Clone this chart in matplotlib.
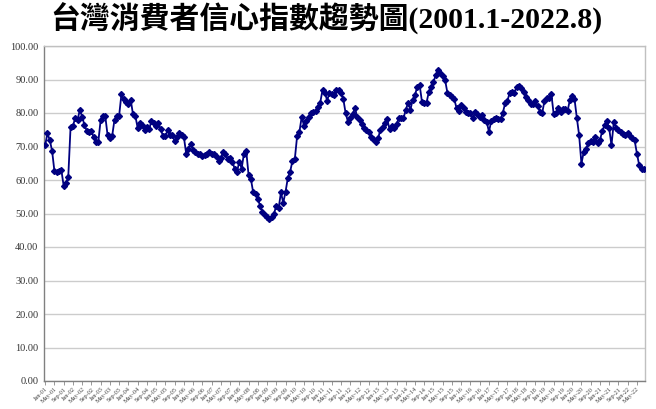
import matplotlib
matplotlib.use("Agg")
import matplotlib.pyplot as plt
import pandas as pd
import numpy as np

# Monthly consumer confidence index, 2001.1 - 2022.8
cci_2001_2005 = [70.4, 73.9, 71.9, 68.7, 62.7, 62.5, 62.7, 63.0, 58.3, 59.0, 61.0, 75.9,
                 76.2, 78.4, 77.9, 80.9, 78.9, 76.4, 74.7, 74.2, 74.6, 72.7, 71.4, 71.4,
                 77.9, 79.2, 79.1, 73.4, 72.4, 73.2, 78.0, 79.1, 79.2, 85.6, 84.2, 83.4,
                 82.8, 84.0, 79.6, 79.2, 75.6, 77.0, 76.5, 74.8, 75.7, 75.2, 77.6, 77.1,
                 76.2, 77.0, 75.1, 73.1, 73.1, 74.9, 73.4, 73.4, 71.6, 72.7, 74.1, 73.4]
cci_2006_2010 = [72.9, 67.9, 69.4, 70.7, 68.9, 68.4, 67.9, 67.7, 67.3, 67.5, 67.9, 68.4,
                 67.7, 67.9, 67.3, 65.7, 66.7, 68.4, 67.7, 66.3, 66.7, 65.5, 63.3, 62.5,
                 65.5, 63.4, 67.9, 68.6, 61.5, 60.3, 56.3, 55.7, 54.3, 52.3, 50.5, 49.5,
                 49.0, 48.5, 49.0, 50.0, 52.3, 51.5, 56.3, 53.2, 56.5, 60.7, 62.5, 65.8,
                 66.2, 73.1, 74.4, 78.9, 76.1, 77.7, 78.9, 80.1, 80.4, 80.7, 81.9, 83.1]
cci_2011_2015 = [86.9, 86.1, 83.7, 86.1, 85.6, 85.4, 86.9, 86.9, 85.9, 84.1, 79.9, 77.4,
                 78.4, 79.7, 81.4, 78.9, 77.9, 76.7, 75.4, 74.9, 74.4, 72.7, 72.1, 71.4,
                 72.4, 74.9, 75.7, 76.9, 78.1, 75.1, 76.1, 75.4, 76.7, 78.4, 78.4, 78.4,
                 80.9, 83.1, 80.9, 84.0, 85.4, 87.9, 88.4, 83.4, 83.1, 83.1, 86.4, 87.9,
                 89.4, 91.3, 92.8, 91.8, 90.9, 89.9, 86.1, 85.4, 84.9, 84.1, 81.4, 80.7]
cci_2016_2020 = [82.4, 81.4, 80.4, 79.9, 80.1, 78.4, 80.4, 79.7, 78.9, 79.4, 77.9, 77.4,
                 74.4, 77.7, 78.3, 78.4, 78.1, 78.1, 80.1, 82.9, 83.7, 86.1, 86.4, 86.1,
                 87.9, 88.1, 87.4, 86.4, 84.9, 83.9, 82.6, 82.6, 83.6, 82.2, 80.4, 79.9,
                 83.6, 84.6, 84.4, 85.6, 79.6, 79.9, 81.6, 80.2, 81.2, 81.2, 80.6, 83.9,
                 85.2, 84.2, 78.6, 73.4, 64.9, 68.4, 69.4, 70.9, 71.6, 71.4, 72.9, 70.9]
cci_2021_2022 = [71.9, 74.6, 76.4, 77.6, 75.4, 70.4, 77.2, 75.6, 74.9, 74.2, 73.6, 73.4,
                 73.9, 73.2, 72.4, 71.9, 67.9, 64.4, 63.2, 63.2]

values = cci_2001_2005 + cci_2006_2010 + cci_2011_2015 + cci_2016_2020 + cci_2021_2022
months = pd.date_range("2001-01-01", periods=len(values), freq="MS")
month_labels = [d.strftime("%b-%y") for d in months]
tick_step = 4
y_ticks = [0, 10, 20, 30, 40, 50, 60, 70, 80, 90, 100]
title = "台灣消費者信心指數趨勢圖(2001.1-2022.8)"

fig = plt.figure(figsize=(6.56, 4.09), dpi=100)
ax = fig.add_axes([44/656, 1-381/409, (645-44)/656, (381-46)/409])

x = np.arange(len(values))
ax.plot(x, values, color="#000080", lw=1.3, marker="D", ms=3.0,
        markerfacecolor="#000080", markeredgecolor="#000080", zorder=3)

ax.set_xlim(-0.5, len(values) - 0.5)
ax.set_ylim(0, 100)
ax.set_yticks(y_ticks)
ax.set_yticklabels([f"{v:.2f}" for v in y_ticks], fontsize=7.5,
                   family="Liberation Serif", color="#333333")
ax.yaxis.grid(True, color="#cccccc", lw=1.0)
ax.set_axisbelow(True)
ax.tick_params(axis="y", length=0, pad=4)

xt = x[::tick_step]
ax.set_xticks(xt)
ax.set_xticklabels([month_labels[i] for i in xt], rotation=45, fontsize=4.6,
                   family="Liberation Serif", color="#444444", ha="right",
                   rotation_mode="anchor")
ax.tick_params(axis="x", length=3, width=0.6, color="#888888", pad=1)

for s in ["top", "right"]:
    ax.spines[s].set_color("#c0c0c0")
    ax.spines[s].set_linewidth(1.0)
for s in ["left", "bottom"]:
    ax.spines[s].set_color("#808080")
    ax.spines[s].set_linewidth(1.0)

fig.text(0.497, 1-19/409, title, ha="center", va="center", fontsize=21.5,
         fontweight="bold", family=["Liberation Serif", "Noto Sans CJK TC"])

fig.savefig("out.png", dpi=100)
